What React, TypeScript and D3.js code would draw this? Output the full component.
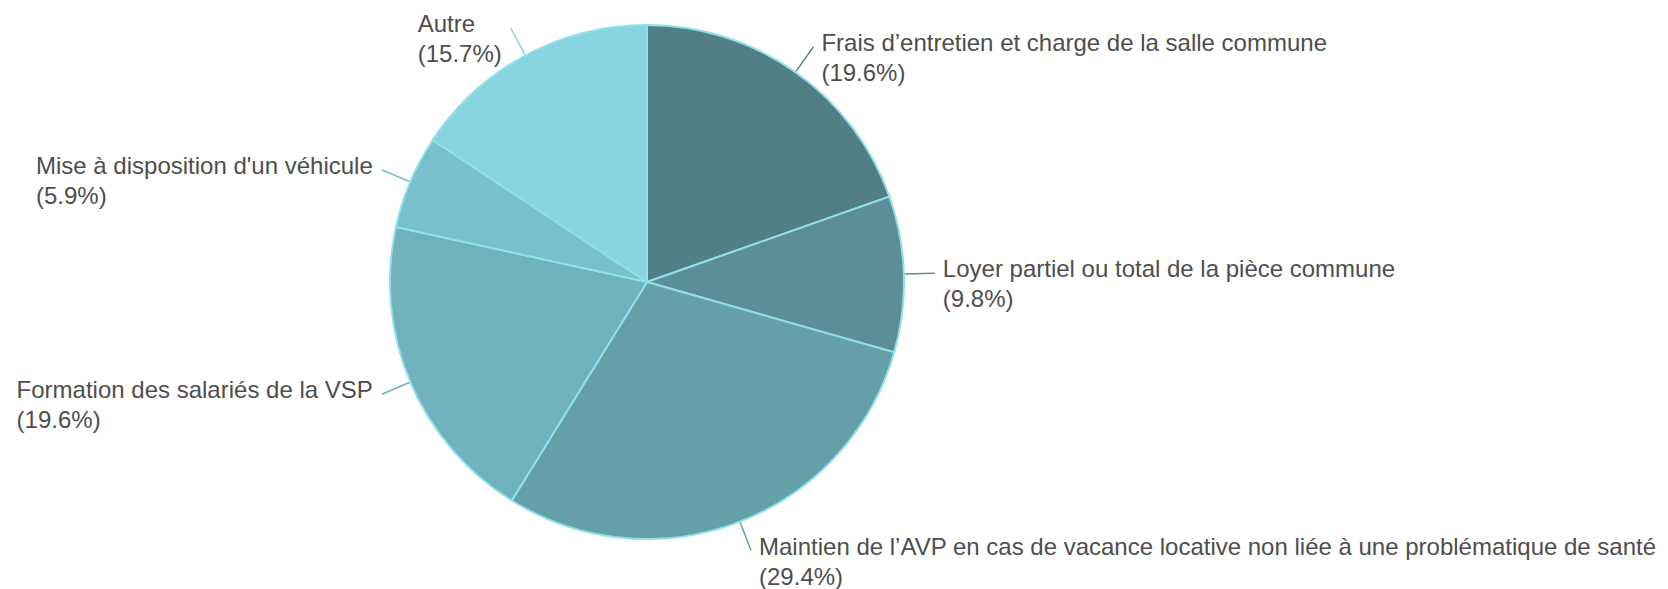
import { useEffect, useRef } from "react";
import * as d3 from "d3";

const categories = [
  "Frais d\u2019entretien et charge de la salle commune",
  "Loyer partiel ou total de la pièce commune",
  "Maintien de l\u2019AVP en cas de vacance locative non liée à une problématique de santé",
  "Formation des salariés de la VSP",
  "Mise à disposition d'un véhicule",
  "Autre",
];
const counts = [10, 5, 15, 10, 3, 8];
const colors = ["#527f86", "#5b8e96", "#65a0a8", "#6fb1bc", "#78c0cd", "#85d4e0"];

const W = 1668;
const H = 589;

const App = () => {
  const svgRef = useRef<SVGSVGElement>(null);

  useEffect(() => {
    document.body.style.margin = "0";
    const root = d3.select(svgRef.current);
    root.selectAll("*").remove();

    const cx = 647;
    const cy = 282;
    const r = 257;
    const total = d3.sum(counts);
    const data = categories.map((c, i) => ({ name: c, value: counts[i], color: colors[i] }));

    const pie = d3.pie<any>().value((d) => d.value).sort(null);
    const arcs = pie(data);
    const arc = d3.arc<any>().innerRadius(0).outerRadius(r);

    const g = root.append("g").attr("transform", `translate(${cx},${cy})`);

    g.selectAll("path.slice")
      .data(arcs)
      .enter()
      .append("path")
      .attr("class", "slice")
      .attr("d", arc)
      .attr("fill", (d) => d.data.color)
      .attr("stroke", "#90e0ea")
      .attr("stroke-width", 2);

    const fmt = d3.format(".1f");
    const fontSize = 24;
    const lineH = 30;

    arcs.forEach((a) => {
      const mid = (a.startAngle + a.endAngle) / 2;
      const sx = Math.sin(mid);
      const sy = -Math.cos(mid);
      const x0 = sx * (r + 1);
      const y0 = sy * (r + 1);
      const x1 = sx * (r + 31);
      const y1 = sy * (r + 31);

      g.append("line")
        .attr("x1", x0)
        .attr("y1", y0)
        .attr("x2", x1)
        .attr("y2", y1)
        .attr("stroke", a.data.color)
        .attr("stroke-width", 1.5);

      const lines = [a.data.name, `(${fmt((a.data.value / total) * 100)}%)`];
      const t = g
        .append("text")
        .attr("font-family", "'Liberation Sans', Arial, sans-serif")
        .attr("font-size", fontSize)
        .attr("fill", "#4e4e4e");
      const spans = lines.map((l, i) =>
        t
          .append("tspan")
          .attr("x", 0)
          .attr("y", y1 + 4 + i * lineH)
          .text(l)
      );
      const widths = spans.map((s) => (s.node() as SVGTSpanElement).getComputedTextLength());
      const right = sx > 0;
      const blockW = d3.max(widths) ?? 0;
      const left = right ? x1 + 8 : x1 - 9 - blockW;
      const maxW = W - cx - left - 6;
      spans.forEach((s, i) => {
        s.attr("x", left);
        if (right && widths[i] > maxW) {
          s.attr("textLength", maxW).attr("lengthAdjust", "spacingAndGlyphs");
        }
      });
    });
  }, []);

  return <svg ref={svgRef} width={W} height={H} style={{ display: "block", background: "#fff" }} />;
};

export default App;
